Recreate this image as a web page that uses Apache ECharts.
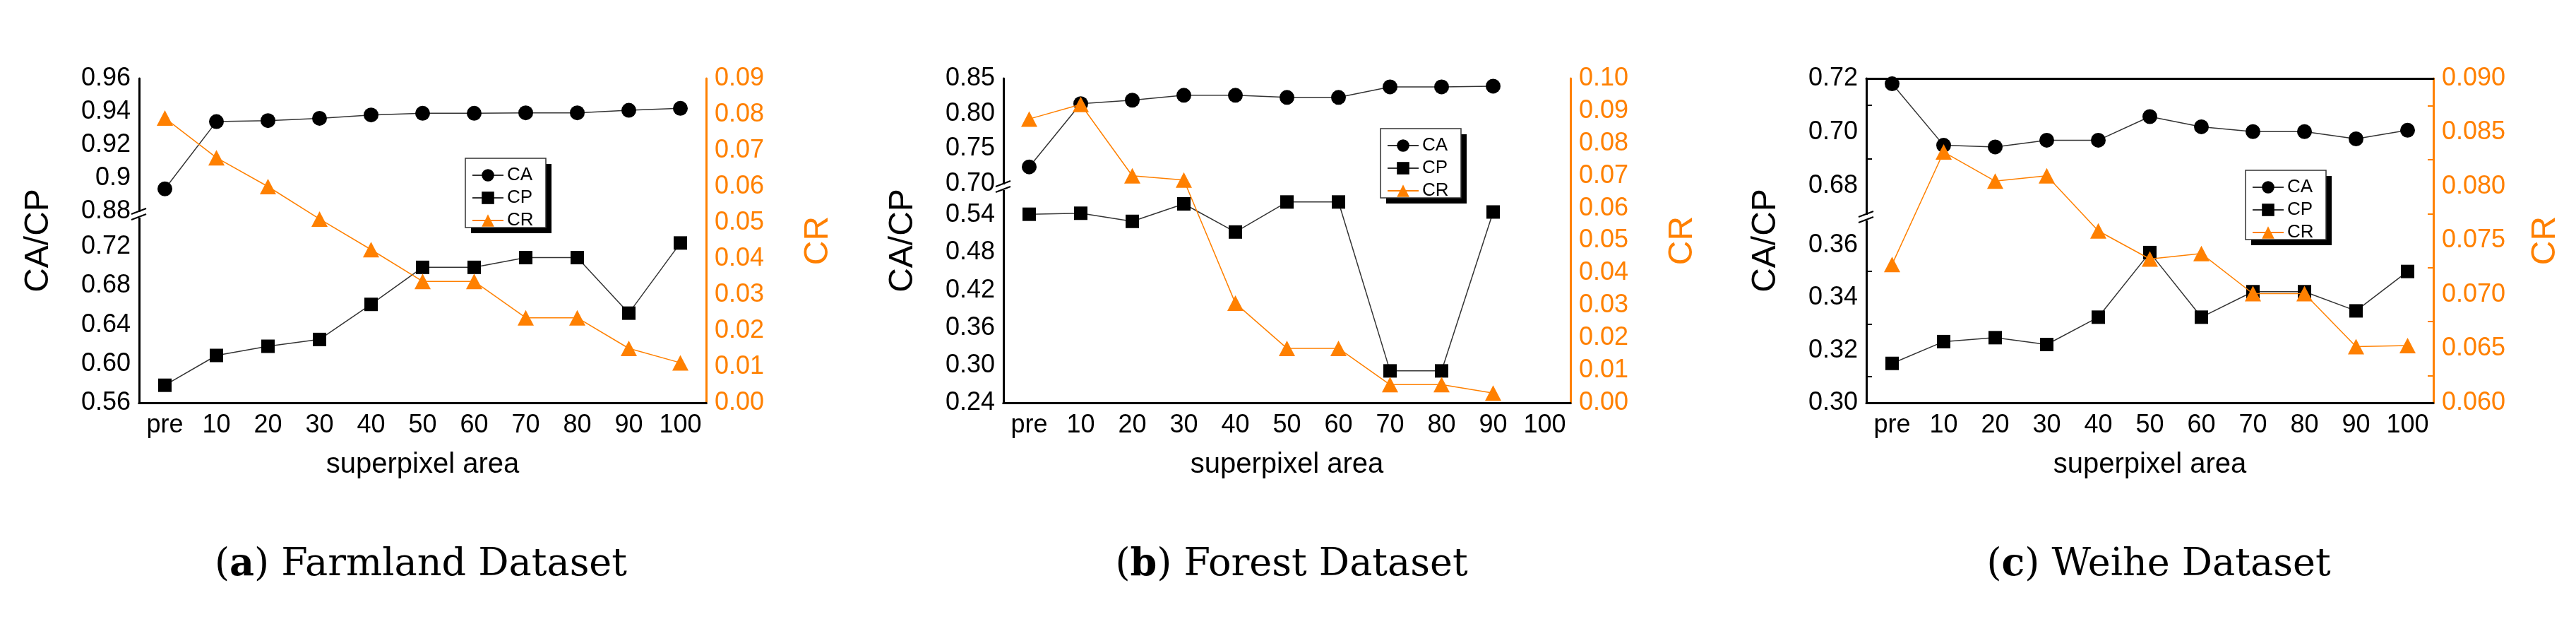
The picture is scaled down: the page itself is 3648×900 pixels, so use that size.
<!DOCTYPE html>
<html><head><meta charset="utf-8">
<script src="https://cdn.jsdelivr.net/npm/echarts@6/dist/echarts.min.js"></script>
<style>html,body{margin:0;padding:0;background:#fff}#c{width:3648px;height:900px}</style>
</head><body><div id="c"></div>
<script>
const categories = ['pre','10','20','30','40','50','60','70','80','90','100'];
const seriesNames = ['CA','CP','CR'];
// Panel (a) Farmland
const farmCA = [0.8935,0.934,0.9346,0.936,0.938,0.939,0.939,0.9393,0.9393,0.9408,0.942];
const farmCP = [0.578,0.6086,0.618,0.625,0.661,0.699,0.699,0.709,0.709,0.652,0.724];
const farmCR = [0.079,0.068,0.060,0.051,0.0425,0.0337,0.0337,0.0236,0.0236,0.0151,0.0111];
// Panel (b) Forest
const forestCA = [0.724,0.814,0.819,0.826,0.826,0.823,0.823,0.838,0.838,0.839,null];
const forestCP = [0.5414,0.543,0.530,0.558,0.513,0.561,0.561,0.291,0.291,0.545,null];
const forestCR = [0.0875,0.092,0.070,0.0687,0.0307,0.0168,0.0168,0.0056,0.0056,0.003,null];
// Panel (c) Weihe
const weiheCA = [0.718,0.6951,0.6945,0.697,0.697,0.7058,0.702,0.7002,0.7002,0.6975,0.7007];
const weiheCP = [0.315,0.3233,0.3248,0.3222,0.3326,0.3572,0.3326,0.3423,0.3423,0.335,0.350];
const weiheCR = [0.0728,0.0832,0.0805,0.081,0.0759,0.0733,0.0738,0.0701,0.0701,0.0652,0.0653];
const captions = [['a','Farmland Dataset'],['b','Forest Dataset'],['c','Weihe Dataset']];

const ORANGE = '#FF8000';
const FONT = 'Liberation Sans';
const panels = [
  {left:197, upTop:111, upBot:299, loTop:308, bot:570, brk:304,
   up:[0.88,0.96,0.02], lo:[0.56,0.75,0.04], loMax:false, cr:[0,0.09,0.01,2], minor:false,
   ca:farmCA, cp:farmCP, crd:farmCR, leg:[659,224], cap:596, upFmt:v=>Math.abs(v-0.9)<1e-9?'0.9':v.toFixed(2)},
  {left:1421, upTop:111, upBot:260, loTop:269, bot:570, brk:265,
   up:[0.70,0.85,0.05], lo:[0.24,0.58,0.06], loMax:false, cr:[0,0.10,0.01,2], minor:false,
   ca:forestCA, cp:forestCP, crd:forestCR, leg:[1955,182], cap:1829, upFmt:v=>v.toFixed(2)},
  {left:2643, upTop:111, upBot:263, loTop:347, bot:570, brk:308,
   up:[0.68,0.72,0.02], lo:[0.30,0.36,0.02], loMax:true, cr:[0.06,0.09,0.005,3], minor:true,
   ca:weiheCA, cp:weiheCP, crd:weiheCR, leg:[3180,241], cap:3057, upFmt:v=>v.toFixed(2)}
];
const W = 803;
const grid=[], xAxis=[], yAxis=[], series=[], graphic=[];
const tickLabel = {fontFamily:FONT, fontSize:36, color:'#000'};
panels.forEach((p,i)=>{
  const g0 = grid.length;
  grid.push({left:p.left, top:p.upTop, width:W, height:p.upBot-p.upTop});
  grid.push({left:p.left, top:p.loTop, width:W, height:p.bot-p.loTop});
  grid.push({left:p.left, top:p.upTop, width:W, height:p.bot-p.upTop});
  const hiddenX = gi=>({type:'category', data:categories, gridIndex:gi, boundaryGap:true, show:false});
  const x0=xAxis.length;
  xAxis.push(hiddenX(g0), hiddenX(g0+1));
  xAxis.push({type:'category', data:categories, gridIndex:g0+2, boundaryGap:true, position:'bottom',
    axisLine:{lineStyle:{color:'#000',width:3}}, axisTick:{inside:true,length:13,alignWithLabel:true,interval:0,lineStyle:{color:'#000',width:2}},
    axisLabel:Object.assign({margin:14, interval:0},tickLabel),
    name:'superpixel area', nameLocation:'middle', nameGap:68, nameTextStyle:{fontFamily:FONT,fontSize:40,color:'#000'}});
  xAxis.push({type:'category', data:categories, gridIndex:g0+2, position:'top',
    axisLine:{lineStyle:{color:'#000',width:3}}, axisTick:{show:false}, axisLabel:{show:false}});
  const minorOpt = p.minor ? {show:true, splitNumber:2, length:8, lineStyle:{color:'#000',width:2}} : {show:false};
  const y0=yAxis.length;
  yAxis.push({type:'value', gridIndex:g0, min:p.up[0], max:p.up[1], interval:p.up[2], position:'left',
    axisLine:{show:false}, splitLine:{show:false},
    axisTick:{inside:true,length:13,lineStyle:{color:'#000',width:2}}, minorTick:minorOpt,
    axisLabel:Object.assign({margin:12, formatter:p.upFmt, showMaxLabel:true, showMinLabel:true},tickLabel)});
  yAxis.push({type:'value', gridIndex:g0+1, min:p.lo[0], max:p.lo[1], interval:p.lo[2], position:'left',
    axisLine:{show:false}, splitLine:{show:false},
    axisTick:{inside:true,length:13,lineStyle:{color:'#000',width:2}}, minorTick:minorOpt,
    axisLabel:Object.assign({margin:12, formatter:v=>v.toFixed(2), showMaxLabel:p.loMax, showMinLabel:true},tickLabel)});
  yAxis.push({type:'value', gridIndex:g0+2, position:'left', min:0, max:1,
    axisLine:{show:true,lineStyle:{color:'#000',width:3}}, axisTick:{show:false}, axisLabel:{show:false}, splitLine:{show:false},
    name:'CA/CP', nameLocation:'middle', nameRotate:90, nameGap:118, nameTextStyle:{fontFamily:FONT,fontSize:48,color:'#000'}});
  yAxis.push({type:'value', gridIndex:g0+2, position:'right', min:p.cr[0], max:p.cr[1], interval:p.cr[2],
    axisLine:{show:true,lineStyle:{color:ORANGE,width:3}}, splitLine:{show:false},
    axisTick:{inside:true,length:13,lineStyle:{color:ORANGE,width:2}},
    minorTick:p.minor?{show:true,splitNumber:2,length:8,lineStyle:{color:ORANGE,width:2}}:{show:false},
    axisLabel:{margin:12, fontFamily:FONT, fontSize:36, color:ORANGE, formatter:v=>v.toFixed(p.cr[3])},
    name:'CR', nameLocation:'middle', nameRotate:90, nameGap:135, nameTextStyle:{fontFamily:FONT,fontSize:48,color:ORANGE}});
  series.push({name:'CA', type:'line', xAxisIndex:x0, yAxisIndex:y0, data:p.ca, symbol:'circle', symbolSize:21,
    itemStyle:{color:'#000'}, lineStyle:{color:'#333',width:1.5}, z:3});
  series.push({name:'CP', type:'line', xAxisIndex:x0+1, yAxisIndex:y0+1, data:p.cp, symbol:'rect', symbolSize:19,
    itemStyle:{color:'#000'}, lineStyle:{color:'#333',width:1.5}, z:3});
  series.push({name:'CR', type:'line', xAxisIndex:x0+2, yAxisIndex:y0+3, data:p.crd, symbol:'triangle', symbolSize:[23,22],
    itemStyle:{color:ORANGE}, lineStyle:{color:ORANGE,width:1.5}, z:4});
  graphic.push({type:'rect', shape:{x:p.left-6, y:p.brk-4, width:12, height:8}, style:{fill:'#fff'}, z:100});
  graphic.push({type:'line', shape:{x1:p.left-11, y1:p.brk-1, x2:p.left+10, y2:p.brk-9}, style:{stroke:'#000',lineWidth:2}, z:101});
  graphic.push({type:'line', shape:{x1:p.left-11, y1:p.brk+7, x2:p.left+10, y2:p.brk-1}, style:{stroke:'#000',lineWidth:2}, z:101});
  const lx=p.leg[0], ly=p.leg[1];
  graphic.push({type:'rect', shape:{x:lx+8, y:ly+8, width:114, height:98}, style:{fill:'#000'}, z:90});
  graphic.push({type:'rect', shape:{x:lx, y:ly, width:114, height:98}, style:{fill:'#fff', stroke:'#333', lineWidth:1.5}, z:91});
  const cap = captions[i];
  graphic.push({type:'text', x:p.cap, y:800, z:100, style:{
    text:'{n|(}{b|'+cap[0]+'}{n|) '+cap[1]+'}', align:'center', verticalAlign:'middle',
    rich:{n:{fontFamily:'DejaVu Serif',fontSize:54,color:'#000'}, b:{fontFamily:'DejaVu Serif',fontSize:54,fontWeight:'bold',color:'#000'}}}});
});
const legend = panels.map((p,i)=>({
  left:p.leg[0]+4, top:p.leg[1]+6, orient:'vertical', itemGap:6, itemWidth:44, itemHeight:22,
  data:seriesNames, selectedMode:false, z:95,
  textStyle:{fontFamily:FONT, fontSize:26, color:'#000'}
}));
const chart = echarts.init(document.getElementById('c'), null, {renderer:'canvas'});
chart.setOption({animation:false, backgroundColor:'#fff', grid, xAxis, yAxis, series, legend, graphic});
</script></body></html>
